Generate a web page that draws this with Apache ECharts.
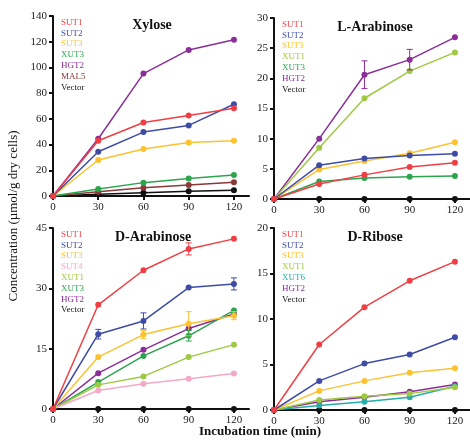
<!DOCTYPE html>
<html>
<head>
<meta charset="utf-8">
<script src="https://cdn.jsdelivr.net/npm/echarts@6/dist/echarts.min.js"></script>
<style>
  html, body { margin: 0; padding: 0; background: #fff; }
  #main { width: 470px; height: 446px; }
</style>
</head>
<body>
<div id="main"></div>
<script>
// sampling times (min)
var times = [0, 30, 60, 90, 120];

// Xylose
var xylSUT1 = [0, 43, 57.2, 62.6, 68.3];
var xylSUT2 = [0, 34.4, 49.7, 54.9, 71.4];
var xylSUT3 = [0, 28, 36.5, 41.7, 43];
var xylXUT3 = [0, 5.4, 10.4, 13.7, 16.3];
var xylHGT2 = [0, 44.5, 95.2, 113.6, 121.6];
var xylMAL5 = [0, 3.4, 6.5, 8.5, 10.6];
var xylVector = [0, 1.3, 2.6, 3.6, 4.4];

// L-Arabinose
var larSUT1 = [0, 2.5, 4.0, 5.3, 6.0];
var larSUT2 = [0, 5.6, 6.7, 7.2, 7.5];
var larSUT3 = [0, 4.9, 6.3, 7.6, 9.4];
var larXUT1 = [0, 8.5, 16.7, 21.2, 24.3];
var larXUT3 = [0, 2.9, 3.5, 3.7, 3.8];
var larHGT2 = [0, 10.0, 20.6, 23.1, 26.8];
var larVector = [0, 0, 0, 0, 0];
var larErr = [[60, 20.6, 2.3, 'HGT2'], [90, 23.1, 1.7, 'HGT2']];

// D-Arabinose
var darSUT1 = [0, 25.9, 34.5, 39.8, 42.3];
var darSUT2 = [0, 18.6, 21.9, 30.2, 31.1];
var darSUT3 = [0, 12.9, 18.5, 21.2, 23.2];
var darSUT4 = [0, 4.6, 6.3, 7.5, 8.8];
var darXUT1 = [0, 6.0, 8.1, 12.9, 16.0];
var darXUT3 = [0, 6.7, 13.2, 18.2, 24.5];
var darHGT2 = [0, 8.9, 14.7, 20.0, 23.6];
var darVector = [0, 0, 0, 0, 0];
var darErr = [[90, 39.8, 1.5, 'SUT1'], [30, 18.6, 1.2, 'SUT2'], [60, 21.9, 2.0, 'SUT2'],
              [120, 31.1, 1.5, 'SUT2'], [60, 18.5, 1.0, 'SUT3'], [90, 21.2, 3.0, 'SUT3'],
              [120, 23.2, 1.0, 'SUT3'], [90, 18.2, 1.3, 'XUT3']];

// D-Ribose
var ribSUT1 = [0, 7.2, 11.3, 14.2, 16.3];
var ribSUT2 = [0, 3.2, 5.1, 6.1, 8.0];
var ribSUT3 = [0, 2.1, 3.2, 4.1, 4.6];
var ribXUT1 = [0, 1.1, 1.5, 1.8, 2.5];
var ribXUT6 = [0, 0.5, 0.9, 1.4, 2.6];
var ribHGT2 = [0, 0.9, 1.4, 2.0, 2.8];
var ribVector = [0, 0, 0, 0, 0];

var colors = {
    SUT1: '#f03f44', SUT2: '#3e4ca6', SUT3: '#fcc232', SUT4: '#f4a9c7',
    XUT1: '#9ec943', XUT3: '#2ca54e', XUT6: '#27abab', HGT2: '#8c2e99',
    MAL5: '#8b3a3a', Vector: '#111111'
};

var FONT = '"Liberation Serif", "DejaVu Serif", serif';

var panels = [
    { title: 'Xylose', max: 140, step: 20, grid: { left: 53, top: 16, width: 196, height: 180 },
      names: ['SUT1', 'SUT2', 'SUT3', 'XUT3', 'HGT2', 'MAL5', 'Vector'],
      data: [xylSUT1, xylSUT2, xylSUT3, xylXUT3, xylHGT2, xylMAL5, xylVector], err: [], tx: 147 },
    { title: 'L-Arabinose', max: 30, step: 5, grid: { left: 274, top: 18, width: 196, height: 181 },
      names: ['SUT1', 'SUT2', 'SUT3', 'XUT1', 'XUT3', 'HGT2', 'Vector'],
      data: [larSUT1, larSUT2, larSUT3, larXUT1, larXUT3, larHGT2, larVector], err: larErr, tx: 370 },
    { title: 'D-Arabinose', max: 45, step: 15, grid: { left: 53, top: 228, width: 196, height: 181 },
      names: ['SUT1', 'SUT2', 'SUT3', 'SUT4', 'XUT1', 'XUT3', 'HGT2', 'Vector'],
      data: [darSUT1, darSUT2, darSUT3, darSUT4, darXUT1, darXUT3, darHGT2, darVector], err: darErr, tx: 148 },
    { title: 'D-Ribose', max: 20, step: 5, grid: { left: 274, top: 228, width: 196, height: 182 },
      names: ['SUT1', 'SUT2', 'SUT3', 'XUT1', 'XUT6', 'HGT2', 'Vector'],
      data: [ribSUT1, ribSUT2, ribSUT3, ribXUT1, ribXUT6, ribHGT2, ribVector], err: [], tx: 370 }
];

var grids = [], xAxes = [], yAxes = [], series = [], legends = [], titles = [];

panels.forEach(function (p, i) {
    grids.push(p.grid);
    xAxes.push({
        gridIndex: i, type: 'value', min: 0, max: 130, interval: 30,
        splitLine: { show: false },
        axisLine: { lineStyle: { color: '#111', width: 2 } },
        axisTick: { customValues: [0, 30, 60, 90, 120], length: 4, lineStyle: { color: '#111', width: 2 } },
        axisLabel: { customValues: [0, 30, 60, 90, 120], color: '#222', fontFamily: FONT, fontSize: 11, margin: 6 }
    });
    yAxes.push({
        gridIndex: i, type: 'value', min: 0, max: p.max, interval: p.step,
        splitLine: { show: false },
        axisLine: { show: true, lineStyle: { color: '#111', width: 2 } },
        axisTick: { show: true, length: 4, lineStyle: { color: '#111', width: 2 } },
        axisLabel: { color: '#222', fontFamily: FONT, fontSize: 11, margin: 6 }
    });
    titles.push({
        text: p.title, left: p.tx, top: p.grid.top - 3, textAlign: 'center',
        textStyle: { fontFamily: FONT, fontSize: 14, fontWeight: 'bold', color: '#111' }
    });
    legends.push({
        orient: 'vertical', left: p.grid.left - 2, top: p.grid.top - 3,
        icon: 'none', itemWidth: 0, itemHeight: 9, itemGap: 1.8, selectedMode: false,
        textStyle: { fontFamily: FONT, fontSize: 9, padding: 0 },
        data: p.names.map(function (n) { return { name: n, textStyle: { color: colors[n] } }; })
    });
    // draw in reverse so SUT1 ends on top
    for (var k = p.names.length - 1; k >= 0; k--) {
        var n = p.names[k];
        series.push({
            name: n, type: 'line', xAxisIndex: i, yAxisIndex: i,
            data: times.map(function (t, j) { return [t, p.data[k][j]]; }),
            symbol: 'circle', symbolSize: 6, showSymbol: true,
            lineStyle: { color: colors[n], width: 1.5 },
            itemStyle: { color: colors[n] },
            z: 3 + (p.names.length - k) * 0.01,
            animation: false
        });
    }
    if (p.err.length) {
        series.push({
            type: 'custom', xAxisIndex: i, yAxisIndex: i, z: 4, animation: false,
            data: p.err,
            renderItem: function (params, api) {
                var x = api.value(0), y = api.value(1), e = api.value(2);
                var c = colors[p.err[params.dataIndex][3]];
                var hi = api.coord([x, y + e]), lo = api.coord([x, y - e]);
                var st = { stroke: c, lineWidth: 1 };
                return {
                    type: 'group', children: [
                        { type: 'line', shape: { x1: hi[0], y1: hi[1], x2: lo[0], y2: lo[1] }, style: st },
                        { type: 'line', shape: { x1: hi[0] - 3, y1: hi[1], x2: hi[0] + 3, y2: hi[1] }, style: st },
                        { type: 'line', shape: { x1: lo[0] - 3, y1: lo[1], x2: lo[0] + 3, y2: lo[1] }, style: st }
                    ]
                };
            }
        });
    }
});

var chart = echarts.init(document.getElementById('main'));
chart.setOption({
    animation: false,
    backgroundColor: '#fff',
    title: titles,
    legend: legends,
    grid: grids,
    xAxis: xAxes,
    yAxis: yAxes,
    series: series,
    graphic: [
        {
            type: 'text', x: 14, y: 216, rotation: Math.PI / 2,
            style: { text: 'Concentration (\u00b5mol/g dry cells)', fontFamily: FONT, fontSize: 13,
                     fill: '#111', align: 'center', verticalAlign: 'middle' }
        },
        {
            type: 'text', x: 260, y: 432,
            style: { text: 'Incubation time (min)', fontFamily: FONT, fontSize: 13, fontWeight: 'bold',
                     fill: '#111', align: 'center', verticalAlign: 'middle' }
        }
    ]
});
</script>
</body>
</html>
